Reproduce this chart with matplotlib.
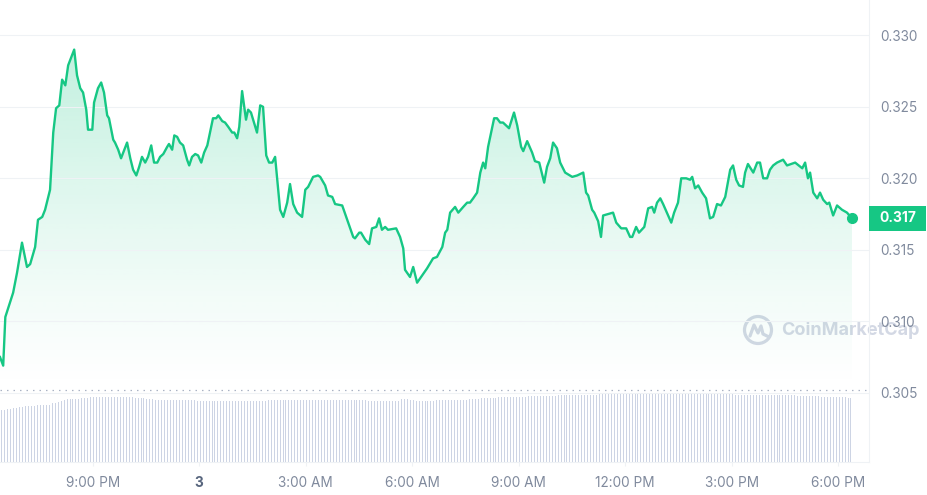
import numpy as np
import matplotlib
matplotlib.use("Agg")
import matplotlib.pyplot as plt
import matplotlib.colors as colors
import matplotlib.transforms as mtransforms
from matplotlib.patches import Rectangle, Ellipse
from matplotlib.lines import Line2D
from matplotlib.ticker import FormatStrFormatter

plt.rcParams['font.family'] = ['Inter', 'DejaVu Sans']

# time in hours relative to midnight of day "3"
hours = [
    -5.61, -5.52, -5.46, -5.24, -5.13, -4.99, -4.85, -4.76, -4.62, -4.54,
    -4.42, -4.34, -4.20, -4.11, -4.03, -3.94, -3.86, -3.77, -3.69, -3.52,
    -3.44, -3.35, -3.27, -3.18, -3.13, -3.01, -2.96, -2.85, -2.76, -2.68,
    -2.59, -2.54, -2.42, -2.37, -2.28, -2.20, -2.03, -1.94, -1.86, -1.77,
    -1.69, -1.61, -1.52, -1.44, -1.35, -1.27, -1.18, -1.10, -1.01, -0.90,
    -0.85, -0.76, -0.70, -0.62, -0.54, -0.45, -0.34, -0.28, -0.20, -0.11,
    -0.03, 0.06, 0.14, 0.23, 0.39, 0.48, 0.54, 0.65, 0.73, 0.82,
    0.93, 0.99, 1.07, 1.13, 1.21, 1.32, 1.38, 1.46, 1.52, 1.63,
    1.72, 1.80, 1.89, 1.97, 2.06, 2.14, 2.28, 2.37, 2.48, 2.56,
    2.65, 2.76, 2.90, 2.99, 3.07, 3.21, 3.35, 3.41, 3.55, 3.63,
    3.75, 3.83, 4.03, 4.17, 4.34, 4.39, 4.51, 4.56, 4.68, 4.79,
    4.87, 4.99, 5.07, 5.15, 5.24, 5.32, 5.55, 5.66, 5.75, 5.80,
    5.94, 6.03, 6.14, 6.28, 6.42, 6.59, 6.70, 6.85, 6.93, 6.99,
    7.07, 7.21, 7.30, 7.44, 7.55, 7.63, 7.72, 7.83, 7.92, 8.00,
    8.06, 8.14, 8.31, 8.39, 8.48, 8.56, 8.73, 8.87, 8.96, 9.07,
    9.13, 9.24, 9.38, 9.46, 9.58, 9.72, 9.80, 9.89, 9.97, 10.08,
    10.17, 10.31, 10.51, 10.65, 10.82, 10.90, 10.96, 11.07, 11.13, 11.24,
    11.32, 11.38, 11.66, 11.75, 11.89, 12.03, 12.14, 12.20, 12.31, 12.39,
    12.54, 12.65, 12.76, 12.82, 12.90, 12.99, 13.07, 13.21, 13.30, 13.38,
    13.49, 13.58, 13.72, 13.83, 13.89, 13.97, 14.06, 14.17, 14.28, 14.39,
    14.48, 14.59, 14.70, 14.82, 14.96, 15.04, 15.13, 15.21, 15.32, 15.38,
    15.46, 15.61, 15.72, 15.80, 15.89, 16.00, 16.08, 16.17, 16.28, 16.45,
    16.56, 16.79, 16.99, 17.07, 17.15, 17.21, 17.30, 17.41, 17.49, 17.58,
    17.69, 17.75, 17.86, 17.97, 18.11, 18.25, 18.39,
]

price = [
    0.3075, 0.3069, 0.3103, 0.3120, 0.3134, 0.3155, 0.3138, 0.3140, 0.3152, 0.3171,
    0.3173, 0.3178, 0.3192, 0.3232, 0.3249, 0.3251, 0.3269, 0.3265, 0.3279, 0.3290,
    0.3272, 0.3263, 0.3260, 0.3248, 0.3234, 0.3234, 0.3253, 0.3263, 0.3267, 0.3260,
    0.3244, 0.3242, 0.3227, 0.3225, 0.3220, 0.3214, 0.3225, 0.3214, 0.3206, 0.3202,
    0.3208, 0.3215, 0.3211, 0.3215, 0.3223, 0.3211, 0.3211, 0.3215, 0.3217, 0.3222,
    0.3224, 0.3220, 0.3230, 0.3229, 0.3225, 0.3223, 0.3213, 0.3209, 0.3215, 0.3217,
    0.3216, 0.3211, 0.3218, 0.3223, 0.3242, 0.3242, 0.3244, 0.3240, 0.3239, 0.3236,
    0.3232, 0.3232, 0.3228, 0.3236, 0.3261, 0.3241, 0.3248, 0.3246, 0.3241, 0.3232,
    0.3251, 0.3250, 0.3216, 0.3211, 0.3211, 0.3215, 0.3178, 0.3173, 0.3183, 0.3196,
    0.3182, 0.3176, 0.3173, 0.3192, 0.3194, 0.3201, 0.3202, 0.3201, 0.3195, 0.3188,
    0.3187, 0.3182, 0.3181, 0.3171, 0.3159, 0.3158, 0.3162, 0.3162, 0.3157, 0.3154,
    0.3165, 0.3166, 0.3172, 0.3164, 0.3166, 0.3164, 0.3165, 0.3159, 0.3151, 0.3136,
    0.3131, 0.3138, 0.3127, 0.3132, 0.3137, 0.3144, 0.3145, 0.3152, 0.3162, 0.3164,
    0.3176, 0.3180, 0.3176, 0.3180, 0.3183, 0.3183, 0.3186, 0.3190, 0.3204, 0.3211,
    0.3207, 0.3222, 0.3242, 0.3242, 0.3239, 0.3239, 0.3235, 0.3246, 0.3237, 0.3222,
    0.3219, 0.3226, 0.3218, 0.3212, 0.3211, 0.3197, 0.3208, 0.3214, 0.3225, 0.3221,
    0.3211, 0.3204, 0.3201, 0.3202, 0.3204, 0.3190, 0.3188, 0.3178, 0.3176, 0.3170,
    0.3159, 0.3174, 0.3176, 0.3169, 0.3165, 0.3165, 0.3159, 0.3159, 0.3166, 0.3162,
    0.3166, 0.3179, 0.3180, 0.3176, 0.3183, 0.3186, 0.3182, 0.3174, 0.3169, 0.3176,
    0.3183, 0.3200, 0.3200, 0.3199, 0.3201, 0.3193, 0.3195, 0.3190, 0.3186, 0.3172,
    0.3173, 0.3182, 0.3181, 0.3187, 0.3206, 0.3209, 0.3199, 0.3195, 0.3194, 0.3204,
    0.3210, 0.3204, 0.3211, 0.3211, 0.3200, 0.3200, 0.3206, 0.3209, 0.3211, 0.3213,
    0.3209, 0.3211, 0.3207, 0.3211, 0.3200, 0.3204, 0.3190, 0.3186, 0.3190, 0.3185,
    0.3182, 0.3183, 0.3174, 0.3181, 0.3178, 0.3176, 0.3172,
]

# rolling volume, one bar per 5 minutes (12 per hour row), arbitrary units
vol_start = -5.61
vol_step = 1 / 12
volume = [
    52, 52, 53, 53, 54, 54, 55, 55, 56, 56, 56, 56,
    57, 57, 57, 57, 57, 59, 59, 60, 61, 62, 63, 63,
    63, 63, 63, 64, 64, 64, 65, 65, 65, 65, 65, 65,
    65, 65, 65, 65, 65, 65, 65, 65, 65, 64, 64, 64,
    64, 63, 63, 63, 62, 62, 62, 62, 62, 62, 62, 62,
    62, 62, 62, 62, 62, 62, 61, 61, 61, 61, 61, 61,
    61, 61, 61, 61, 61, 61, 61, 61, 61, 61, 61, 61,
    61, 61, 61, 61, 61, 61, 62, 62, 62, 62, 62, 62,
    62, 62, 62, 62, 62, 62, 62, 62, 62, 62, 62, 62,
    62, 62, 62, 62, 62, 62, 62, 62, 62, 62, 62, 62,
    62, 62, 62, 62, 61, 61, 61, 61, 61, 61, 61, 61,
    61, 61, 61, 63, 63, 63, 62, 62, 61, 61, 61, 61,
    61, 61, 61, 62, 62, 62, 62, 62, 62, 62, 62, 62,
    62, 62, 63, 63, 63, 63, 64, 64, 64, 64, 64, 64,
    65, 65, 65, 65, 65, 65, 65, 65, 65, 65, 66, 66,
    66, 66, 66, 66, 66, 66, 66, 66, 67, 67, 67, 67,
    67, 67, 67, 67, 67, 67, 67, 67, 67, 67, 68, 68,
    68, 68, 68, 68, 68, 68, 68, 68, 68, 68, 68, 68,
    68, 68, 68, 68, 68, 68, 68, 68, 69, 69, 69, 69,
    69, 69, 69, 69, 69, 68, 68, 68, 68, 68, 68, 68,
    68, 68, 68, 68, 68, 68, 68, 68, 67, 67, 67, 67,
    67, 67, 67, 67, 67, 67, 67, 67, 67, 67, 67, 67,
    67, 67, 67, 67, 67, 66, 66, 66, 66, 66, 66, 66,
    66, 65, 65, 65, 65, 65, 65, 65, 65, 65, 64, 64,
]

x_ticks = [-3, 0, 3, 6, 9, 12, 15, 18]
x_labels = ['9:00 PM', '3', '3:00 AM', '6:00 AM', '9:00 AM', '12:00 PM', '3:00 PM', '6:00 PM']
y_ticks = [0.305, 0.310, 0.315, 0.320, 0.325, 0.330]
ref_price = 0.3052

GREEN = '#16c784'
GRID = '#eff2f5'
LABEL = '#808a9d'
BAR = '#cdd4e4'
MARK = '#d3d8e4'

W, H = 928, 495
fig = plt.figure(figsize=(W / 100, H / 100), dpi=100)
fig.patch.set_facecolor('white')

rect_main = [0, 33 / H, 869 / W, 462 / H]
x_min, x_max = -5.61, 18.87

# volume bars, crisp 1px lines
vax = fig.add_axes([0, 33 / H, 869 / W, 82 / H])
vol_t = vol_start + vol_step * np.arange(len(volume)) + vol_step / 2
vax.vlines(vol_t, 0, volume, colors=BAR, linewidth=0.72, antialiased=False)
vax.set_xlim(x_min, x_max)
vax.set_ylim(0, 82)
vax.axis('off')
vax.patch.set_visible(False)

# price
ax = fig.add_axes(rect_main)
ax.patch.set_visible(False)

top = max(price)
grad = np.linspace(0, 1, 256) ** 1.2
rgba = np.zeros((256, 1, 4))
rgba[..., :3] = colors.to_rgb(GREEN)
rgba[:, 0, 3] = 0.26 * grad
im = ax.imshow(rgba, extent=[hours[0], hours[-1], ref_price, top], origin='lower',
               aspect='auto', zorder=1, interpolation='bilinear')
fill = ax.fill_between(hours, price, ref_price, color='none', lw=0)
im.set_clip_path(fill.get_paths()[0], ax.transData)
ax.set_xlim(x_min, x_max)
ax.set_ylim(0.30016, 0.33247)

ax.plot(hours, price, color=GREEN, lw=1.7, solid_joinstyle='round', zorder=3)
ax.plot(hours[-1], price[-1], 'o', ms=7, color=GREEN, zorder=4)
ax.axhline(ref_price, color='#aab3c4', lw=0.9, linestyle=(0, (1.2, 4)), zorder=2)

ax.yaxis.tick_right()
ax.set_yticks(y_ticks)
ax.yaxis.set_major_formatter(FormatStrFormatter('%.3f'))
ax.grid(axis='y', color=GRID, lw=0.8, zorder=0)
ax.tick_params(axis='y', length=0, pad=8, labelcolor=LABEL, labelsize=9.8)

ax.set_xticks(x_ticks, x_labels)
ax.tick_params(axis='x', length=3, color=GRID, pad=7, labelcolor=LABEL, labelsize=9.8)
three = ax.get_xticklabels()[1]
three.set_fontweight('bold')
three.set_color('#58667e')

for s in ['left', 'top']:
    ax.spines[s].set_visible(False)
for s in ['right', 'bottom']:
    ax.spines[s].set_color(GRID)
    ax.spines[s].set_linewidth(0.8)

# current price tag
trans = mtransforms.blended_transform_factory(ax.transAxes, ax.transData)
last = price[-1]
tag_h = 0.00175
ax.add_patch(Rectangle((1.0, last - tag_h / 2), 57 / 869, tag_h, transform=trans,
                       facecolor=GREEN, edgecolor='none', clip_on=False, zorder=5))
ax.text(1.0 + 28.5 / 869, last, f'{last:.3f}', transform=trans, ha='center', va='center',
        color='white', fontsize=10, fontweight='bold', zorder=6, clip_on=False)

# watermark
cx, cy = 758 / W, 1 - 330 / H
fig.add_artist(Ellipse((cx, cy), 27 / W, 27 / H, transform=fig.transFigure,
                       fill=False, edgecolor=MARK, lw=2.3, zorder=-1))
wave_x = [-8, -4, 0, 3, 5, 11]
wave_y = [6, -5, 3, -4, 4, 7]
fig.add_artist(Line2D([cx + dx / W for dx in wave_x], [cy - dy / H for dy in wave_y],
                      transform=fig.transFigure, color=MARK, lw=2.3,
                      solid_joinstyle='round', solid_capstyle='round', zorder=-1))
fig.text(781 / W, cy, 'CoinMarketCap', fontsize=13, fontweight='bold', color=MARK,
         ha='left', va='center', zorder=-1)

fig.savefig('out.png', dpi=100)
